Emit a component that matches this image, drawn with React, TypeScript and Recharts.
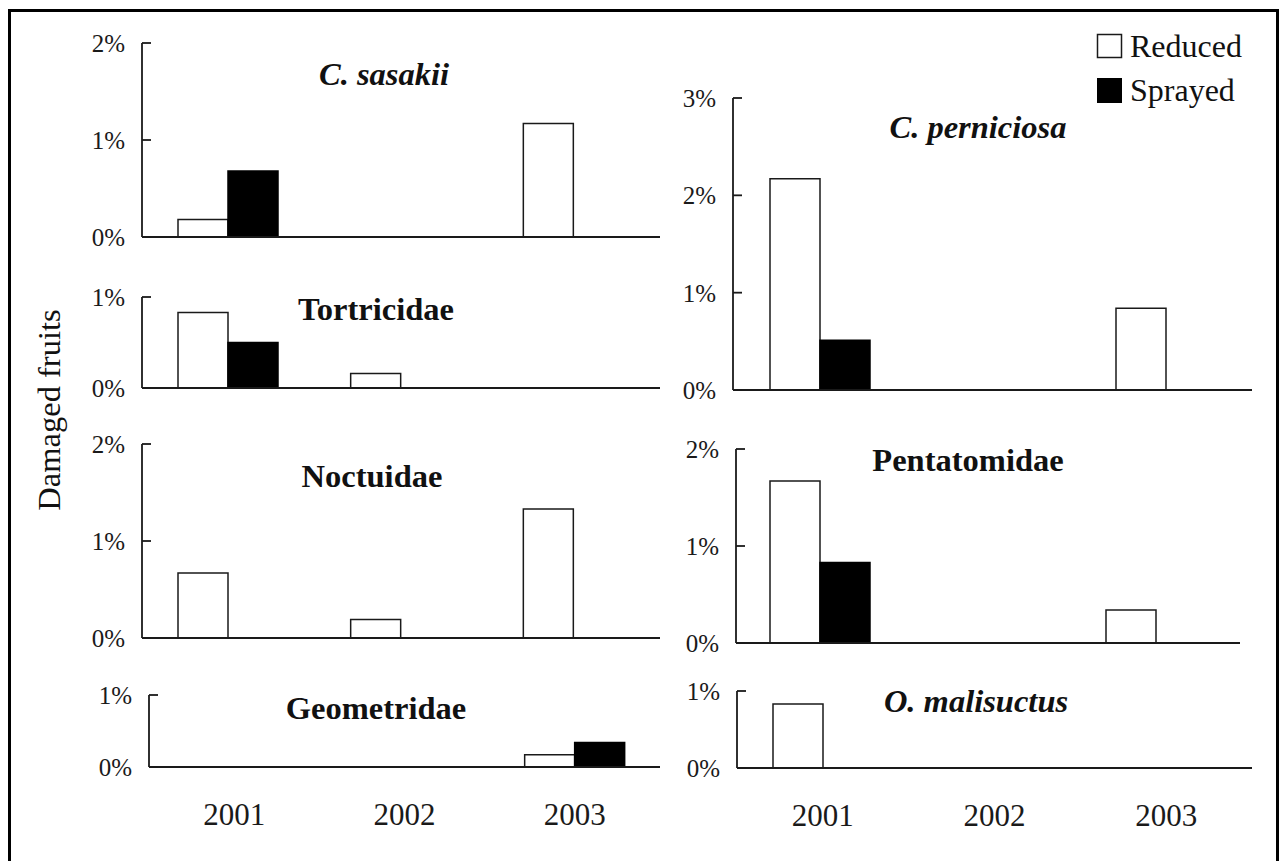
import React from 'react';
import { BarChart, Bar, XAxis, YAxis } from 'recharts';

const years = ['2001', '2002', '2003'];

const sasakiiReduced = [0.18, 0, 1.17];
const sasakiiSprayed = [0.68, 0, 0];
const tortricidaeReduced = [0.83, 0.16, 0];
const tortricidaeSprayed = [0.5, 0, 0];
const noctuidaeReduced = [0.67, 0.19, 1.33];
const noctuidaeSprayed = [0, 0, 0];
const geometridaeReduced = [0, 0, 0.17];
const geometridaeSprayed = [0, 0, 0.34];
const perniciosaReduced = [2.17, 0, 0.84];
const perniciosaSprayed = [0.51, 0, 0];
const pentatomidaeReduced = [1.67, 0, 0.34];
const pentatomidaeSprayed = [0.83, 0, 0];
const malisuctusReduced = [0.83, 0, 0];
const malisuctusSprayed = [0, 0, 0];

const ticks1 = [0, 1];
const ticks2 = [0, 1, 2];
const ticks3 = [0, 1, 2, 3];

const seriesNames = ['Reduced', 'Sprayed'];
const yLabel = 'Damaged fruits';

const FONT = '"Liberation Serif", "Times New Roman", Times, serif';
const INK = '#1a1a1a';

type PanelProps = {
  reduced: number[];
  sprayed: number[];
  ticks: number[];
  x0: number;
  x1: number;
  yTop: number;
  yBot: number;
  showYears?: boolean;
};

function Panel({ reduced, sprayed, ticks, x0, x1, yTop, yBot, showYears }: PanelProps) {
  const data = years.map((year, i) => ({ year, reduced: reduced[i], sprayed: sprayed[i] }));
  const L = 80;
  const R = 10;
  const T = 20;
  const plotW = x1 - x0;
  const plotH = yBot - yTop;
  const axisH = showYears ? 70 : 1;
  const B = showYears ? 0 : 24;
  const width = L + plotW + R;
  const height = T + plotH + axisH + B;
  const max = ticks[ticks.length - 1];
  return (
    <div style={{ position: 'absolute', left: x0 - L, top: yTop - T }}>
      <BarChart
        width={width}
        height={height}
        data={data}
        margin={{ top: T, right: R, bottom: B, left: 0 }}
        barGap={0}
        barSize={50}
      >
        <XAxis
          dataKey="year"
          axisLine={{ stroke: INK, strokeWidth: 1.8 }}
          tickLine={false}
          tick={showYears ? { fill: INK, fontSize: 31, fontFamily: FONT } : false}
          tickSize={0}
          tickMargin={36}
          height={axisH}
          interval={0}
        />
        <YAxis
          type="number"
          domain={[0, max]}
          ticks={ticks}
          width={L}
          tickFormatter={(v: number) => `${v}%`}
          tickSize={-9}
          tickMargin={26}
          axisLine={{ stroke: INK, strokeWidth: 1.8 }}
          tickLine={{ stroke: INK, strokeWidth: 1.8 }}
          tick={{ fill: INK, fontSize: 25, fontFamily: FONT }}
          interval={0}
          allowDataOverflow
        />
        <Bar dataKey="reduced" name={seriesNames[0]} fill="#fff" stroke={INK} strokeWidth={1.5} isAnimationActive={false} />
        <Bar dataKey="sprayed" name={seriesNames[1]} fill="#000" stroke="#000" strokeWidth={1.5} isAnimationActive={false} />
      </BarChart>
    </div>
  );
}

const titleStyle = { fontFamily: FONT, fontWeight: 700, fontSize: 32.5, fill: '#111' } as const;

export default function App() {
  return (
    <div
      style={{
        position: 'fixed',
        left: 0,
        top: 0,
        width: 1279,
        height: 861,
        overflow: 'hidden',
        background: '#fff',
      }}
    >
      <div
        style={{
          position: 'absolute',
          left: 8,
          top: 9,
          width: 1271,
          height: 900,
          border: '3px solid #000',
          boxSizing: 'border-box',
        }}
      />
      <Panel reduced={sasakiiReduced} sprayed={sasakiiSprayed} ticks={ticks2} x0={142} x1={660} yTop={43} yBot={237} />
      <Panel reduced={tortricidaeReduced} sprayed={tortricidaeSprayed} ticks={ticks1} x0={142} x1={660} yTop={297} yBot={388} />
      <Panel reduced={noctuidaeReduced} sprayed={noctuidaeSprayed} ticks={ticks2} x0={142} x1={660} yTop={444} yBot={638} />
      <Panel reduced={geometridaeReduced} sprayed={geometridaeSprayed} ticks={ticks1} x0={149} x1={660} yTop={695} yBot={767} showYears />
      <Panel reduced={perniciosaReduced} sprayed={perniciosaSprayed} ticks={ticks3} x0={733} x1={1252} yTop={98} yBot={390} />
      <Panel reduced={pentatomidaeReduced} sprayed={pentatomidaeSprayed} ticks={ticks2} x0={736} x1={1240} yTop={449} yBot={643} />
      <Panel reduced={malisuctusReduced} sprayed={malisuctusSprayed} ticks={ticks1} x0={737} x1={1252} yTop={691} yBot={768} showYears />

      <svg
        width={1279}
        height={861}
        style={{ position: 'absolute', left: 0, top: 0, pointerEvents: 'none' }}
      >
        <text x={384} y={85} textAnchor="middle" style={{ ...titleStyle, fontStyle: 'italic' }}>C. sasakii</text>
        <text x={376} y={320} textAnchor="middle" style={titleStyle}>Tortricidae</text>
        <text x={372} y={487} textAnchor="middle" style={titleStyle}>Noctuidae</text>
        <text x={376} y={719} textAnchor="middle" style={titleStyle}>Geometridae</text>
        <text x={978} y={138} textAnchor="middle" style={{ ...titleStyle, fontStyle: 'italic' }}>C. perniciosa</text>
        <text x={968} y={471} textAnchor="middle" style={titleStyle}>Pentatomidae</text>
        <text x={976} y={712} textAnchor="middle" style={{ ...titleStyle, fontStyle: 'italic' }}>O. malisuctus</text>

        <text
          transform="translate(60,410) rotate(-90)"
          textAnchor="middle"
          style={{ fontFamily: FONT, fontSize: 32.5, fill: '#111' }}
        >
          {yLabel}
        </text>

        <rect x={1097.5} y={34.5} width={24} height={23} fill="#fff" stroke={INK} strokeWidth={1.5} />
        <text x={1130} y={57} style={{ fontFamily: FONT, fontSize: 32, fill: '#111' }}>{seriesNames[0]}</text>
        <rect x={1097} y={78} width={25} height={25} fill="#000" />
        <text x={1130} y={101} style={{ fontFamily: FONT, fontSize: 32, fill: '#111' }}>{seriesNames[1]}</text>
      </svg>
    </div>
  );
}
